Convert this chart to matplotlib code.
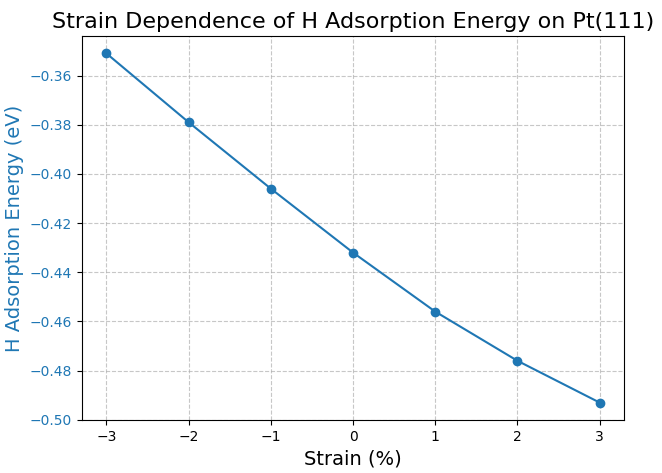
import matplotlib
matplotlib.use("Agg")
import matplotlib.pyplot as plt

strain = [-3, -2, -1, 0, 1, 2, 3]
energy = [-0.351, -0.379, -0.406, -0.432, -0.456, -0.476, -0.493]

fig, ax = plt.subplots(figsize=(6.62, 4.73), dpi=100)
fig.subplots_adjust(left=0.1235, right=0.943, top=0.924, bottom=0.112)
color = "#1f77b4"
ax.plot(strain, energy, marker="o", color=color)
ax.set_title("Strain Dependence of H Adsorption Energy on Pt(111)", fontsize=16)
ax.set_xlabel("Strain (%)", fontsize=14)
ax.set_ylabel("H Adsorption Energy (eV)", fontsize=14, color=color)
ax.tick_params(axis="y", labelcolor=color)
ax.grid(True, linestyle="--", alpha=0.7)
fig.savefig("out.png", dpi=100)
